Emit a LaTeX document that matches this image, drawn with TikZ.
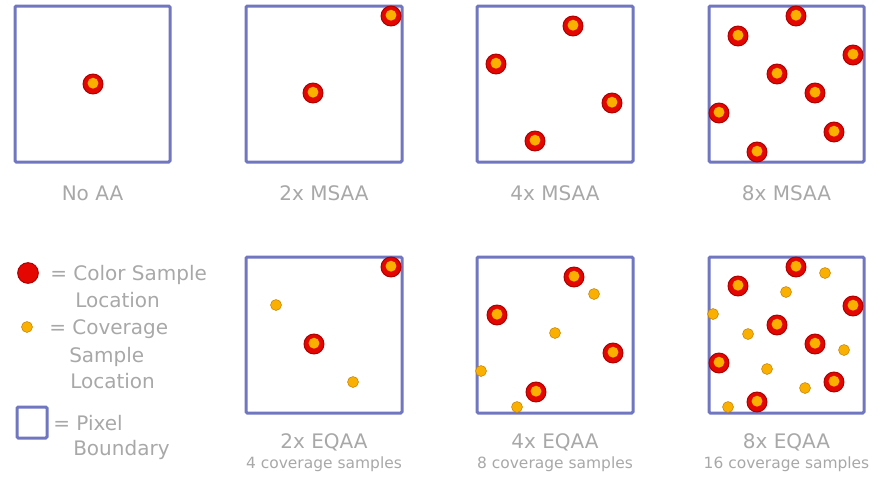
\documentclass[tikz,border=0pt]{standalone}
\usepackage{fontspec}
\setmainfont{DejaVu Sans}
\definecolor{boxblue}{RGB}{112,118,192}
\definecolor{capgray}{RGB}{168,168,168}
\definecolor{sampred}{RGB}{228,6,0}
\definecolor{samprim}{RGB}{170,0,0}
\definecolor{sampcore}{RGB}{250,176,0}
\definecolor{covedge}{RGB}{196,128,0}
\tikzset{
  pixelbox/.style={draw=boxblue, line width=2.25pt, rounded corners=1pt},
  colorsample/.style={circle, minimum size=15pt, inner sep=0pt, draw=samprim, line width=0.7pt,
    fill=sampred,
    path picture={\fill[sampcore] ([yshift=0.6pt]path picture bounding box.center) circle (4.1pt);}},
  covsample/.style={circle, minimum size=8.2pt, inner sep=0pt, fill=sampcore, draw=covedge, line width=0.4pt},
  title/.style={anchor=base, text=capgray, font=\fontsize{15}{18}\selectfont},
  subtitle/.style={anchor=base, text=capgray, font=\fontsize{11.6}{14}\selectfont},
  legend/.style={anchor=base west, inner sep=0pt, text=capgray, font=\fontsize{15}{18}\selectfont}
}
\begin{document}
\begin{tikzpicture}[x=0.75pt,y=0.75pt,yscale=-1,xscale=1]
\useasboundingbox (0,0) rectangle (892,497);

%Pixel boxes, top row
\draw[pixelbox] (15,6) rectangle (170,162);
\draw[pixelbox] (246,6) rectangle (402,162);
\draw[pixelbox] (477,6) rectangle (633,162);
\draw[pixelbox] (709,6) rectangle (864,162);
%Pixel boxes, bottom row
\draw[pixelbox] (246,257) rectangle (402,413);
\draw[pixelbox] (477,257) rectangle (633,413);
\draw[pixelbox] (709,257) rectangle (864,413);

%No AA
\node[colorsample] (noaa1) at (93,84) {};
%2x MSAA
\node[colorsample] (ms2a) at (313,93) {};
\node[colorsample] (ms2b) at (391,16) {};
%4x MSAA
\node[colorsample] (ms4a) at (573,26) {};
\node[colorsample] (ms4b) at (496,64) {};
\node[colorsample] (ms4c) at (612,103) {};
\node[colorsample] (ms4d) at (535,141) {};
%8x MSAA
\node[colorsample] (ms8a) at (796,16) {};
\node[colorsample] (ms8b) at (738,36) {};
\node[colorsample] (ms8c) at (853,55) {};
\node[colorsample] (ms8d) at (777,74) {};
\node[colorsample] (ms8e) at (815,93) {};
\node[colorsample] (ms8f) at (719,113) {};
\node[colorsample] (ms8g) at (834,132) {};
\node[colorsample] (ms8h) at (757,152) {};

%2x EQAA
\node[covsample] (eq2c1) at (276,305) {};
\node[covsample] (eq2c2) at (353,382) {};
\node[colorsample] (eq2a) at (314,344) {};
\node[colorsample] (eq2b) at (391,267) {};
%4x EQAA
\node[covsample] (eq4c1) at (594,294) {};
\node[covsample] (eq4c2) at (555,333) {};
\node[covsample] (eq4c3) at (481,371) {};
\node[covsample] (eq4c4) at (517,407) {};
\node[colorsample] (eq4a) at (574,277) {};
\node[colorsample] (eq4b) at (497,315) {};
\node[colorsample] (eq4c) at (613,353) {};
\node[colorsample] (eq4d) at (536,392) {};
%8x EQAA
\node[covsample] (eq8c1) at (825,273) {};
\node[covsample] (eq8c2) at (786,292) {};
\node[covsample] (eq8c3) at (713,314) {};
\node[covsample] (eq8c4) at (748,334) {};
\node[covsample] (eq8c5) at (844,350) {};
\node[covsample] (eq8c6) at (767,369) {};
\node[covsample] (eq8c7) at (805,388) {};
\node[covsample] (eq8c8) at (728,407) {};
\node[colorsample] (eq8a) at (796,267) {};
\node[colorsample] (eq8b) at (738,286) {};
\node[colorsample] (eq8c) at (853,306) {};
\node[colorsample] (eq8d) at (777,325) {};
\node[colorsample] (eq8e) at (815,344) {};
\node[colorsample] (eq8f) at (719,363) {};
\node[colorsample] (eq8g) at (834,382) {};
\node[colorsample] (eq8h) at (757,402) {};

% Text Node
\node[title] (tnoaa) at (92.5,200) {No AA};
\node[title] (tms2) at (324,200) {2x MSAA};
\node[title] (tms4) at (555,200) {4x MSAA};
\node[title] (tms8) at (786.5,200) {8x MSAA};
\node[title] (teq2) at (324,448) {2x EQAA};
\node[title] (teq4) at (555,448) {4x EQAA};
\node[title] (teq8) at (786.5,448) {8x EQAA};
\node[subtitle] (seq2) at (324,468) {4 coverage samples};
\node[subtitle] (seq4) at (555,468) {8 coverage samples};
\node[subtitle] (seq8) at (786.5,468) {16 coverage samples};

%Legend
\node[colorsample, minimum size=15.5pt, path picture={}] (lgcolor) at (28,273) {};
\node[covsample] (lgcov) at (27,327) {};
\draw[pixelbox] (17,407) rectangle (47,438);
\node[legend] (lgt1) at (50,280) {= Color Sample};
\node[legend] (lgt2) at (75,307) {Location};
\node[legend] (lgt3) at (49,334) {= Coverage};
\node[legend] (lgt4) at (69,362) {Sample};
\node[legend] (lgt5) at (70,388) {Location};
\node[legend] (lgt6) at (53,430) {= Pixel};
\node[legend] (lgt7) at (73,455) {Boundary};
\end{tikzpicture}
\end{document}
